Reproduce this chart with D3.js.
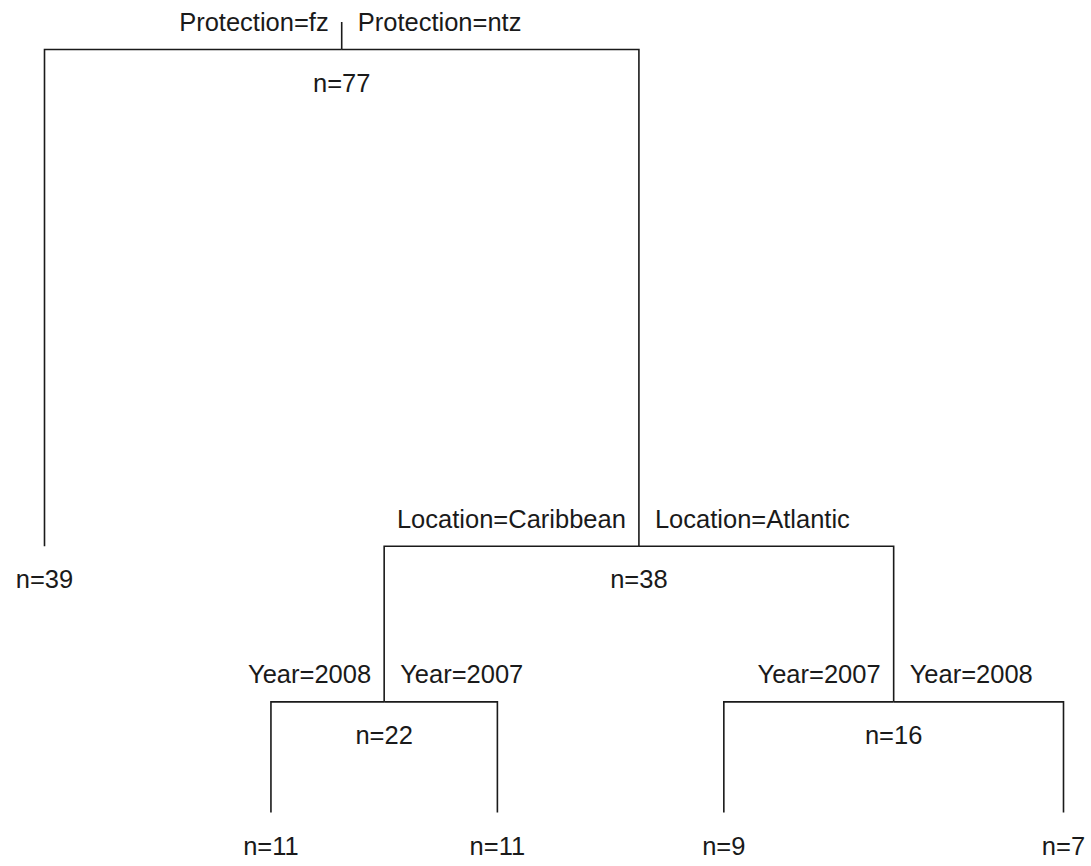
<!DOCTYPE html>
<html>
<head>
<meta charset="utf-8">
<script src="https://cdn.jsdelivr.net/npm/d3@7"></script>
<style>
  html, body { margin: 0; padding: 0; background: #fff; }
  svg { display: block; }
  text { font-family: "Liberation Sans", Arial, Helvetica, sans-serif; fill: #1a1a1a; }
</style>
</head>
<body>
<svg id="tree"></svg>
<script>
// arbol de clasificacion (estilo rpart): nodos, n, reglas de corte
const nodeIds   = ["root", "fz", "ntz", "carib", "c2008", "c2007", "atl", "a2007", "a2008"];
const parentIds = [null, "root", "root", "ntz", "carib", "carib", "ntz", "atl", "atl"];
const nodeN     = [77, 39, 38, 22, 11, 11, 16, 9, 7];
// posicion de las hojas (orden) y altura del nodo
const leafPos    = { fz: 1, c2008: 2, c2007: 3, a2007: 4, a2008: 5.5 };
const nodeHeight = [0, 0.651, 0.651, 0.855, 1, 1, 0.855, 1, 1];
// etiquetas del corte: izquierda / derecha
const splitLeft  = { root: "Protection=fz", ntz: "Location=Caribbean", carib: "Year=2008", atl: "Year=2007" };
const splitRight = { root: "Protection=ntz", ntz: "Location=Atlantic", carib: "Year=2007", atl: "Year=2008" };

const width = 1091, height = 866;
const svg = d3.select("#tree").attr("width", width).attr("height", height);

const table = nodeIds.map((id, i) => ({ id, parent: parentIds[i], n: nodeN[i], h: nodeHeight[i] }));
const root = d3.stratify().id(d => d.id).parentId(d => d.parent)(table);

// x: hojas en su posicion, internos = promedio de los hijos
root.eachAfter(d => {
  d.pos = d.children ? d3.mean(d.children, c => c.pos) : leafPos[d.id];
});

const x = d3.scaleLinear().domain([1, 5.5]).range([44.5, 1063.5]);
const y = d3.scaleLinear().domain([0, 1]).range([49.5, 812.5]);

const g = svg.append("g");
const fs = 25.5;

// ramas
const lines = g.append("g").attr("fill", "none").attr("stroke", "#1a1a1a").attr("stroke-width", 1.6);
root.descendants().forEach(d => {
  const cx = x(d.pos), cy = y(d.data.h);
  if (d.parent) {
    const px = x(d.parent.pos), py = y(d.parent.data.h);
    lines.append("path").attr("d", `M${cx},${cy}V${py}H${px}`);
  } else {
    lines.append("path").attr("d", `M${cx},${cy}V${cy - 27.5}`);
  }
});

// etiquetas de corte
root.descendants().filter(d => d.children).forEach(d => {
  const cx = x(d.pos), cy = y(d.data.h);
  g.append("text").attr("x", cx - 13).attr("y", cy - 18.5)
    .attr("text-anchor", "end").attr("font-size", fs).text(splitLeft[d.id]);
  g.append("text").attr("x", cx + 16).attr("y", cy - 18.5)
    .attr("text-anchor", "start").attr("font-size", fs).text(splitRight[d.id]);
});

// n de cada nodo
root.descendants().forEach(d => {
  g.append("text").attr("x", x(d.pos)).attr("y", y(d.data.h) + 42)
    .attr("text-anchor", "middle").attr("font-size", fs).text("n=" + d.data.n);
});
</script>
</body>
</html>
